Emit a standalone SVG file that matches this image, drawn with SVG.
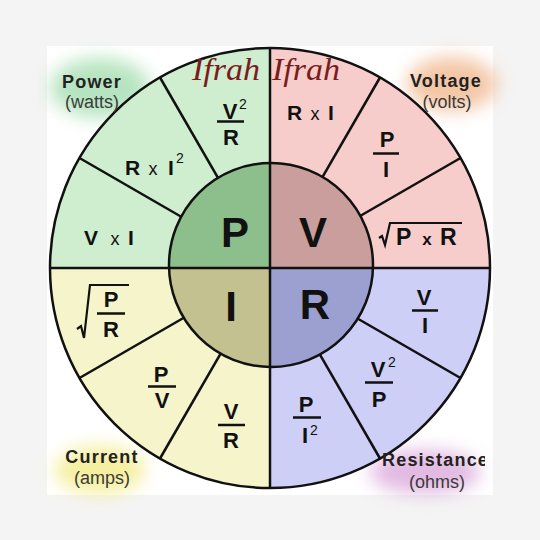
<svg xmlns="http://www.w3.org/2000/svg" width="540" height="540" viewBox="0 0 540 540">
<defs>
<style>
.f{font-family:"Liberation Sans",Arial,sans-serif;fill:#111;}
.b{font-weight:bold;}
.fr{font-family:"Liberation Sans",Arial,sans-serif;font-weight:bold;font-size:22px;fill:#111;text-anchor:middle;}
.sm{font-family:"Liberation Sans",Arial,sans-serif;font-size:18px;fill:#111;text-anchor:middle;}
.sup{font-family:"Liberation Sans",Arial,sans-serif;font-size:14px;fill:#111;}
.big{font-family:"Liberation Sans",Arial,sans-serif;font-weight:bold;font-size:42px;fill:#111;text-anchor:middle;}
.bar{stroke:#111;stroke-width:2.5;}
.lbl{font-family:"Liberation Sans",Arial,sans-serif;font-weight:bold;font-size:18px;letter-spacing:1.2px;fill:#222;text-anchor:middle;}
.lbls{font-family:"Liberation Sans",Arial,sans-serif;font-weight:bold;font-size:18px;letter-spacing:1.2px;fill:#222;text-anchor:start;}
.unit{font-family:"Liberation Sans",Arial,sans-serif;font-size:18px;fill:#3a3a3a;text-anchor:middle;}
.ln{stroke:#111;stroke-width:2.5;fill:none;}
.rad{stroke:#111;stroke-width:2.2;fill:none;stroke-linejoin:miter;}
.sig{font-family:"Liberation Serif","Times New Roman",serif;font-style:italic;font-size:32px;fill:#7a1c1c;}
</style>
<filter id="blur" x="-50%" y="-50%" width="200%" height="200%"><feGaussianBlur stdDeviation="9"/></filter>
<clipPath id="poster"><rect x="47" y="46" width="438" height="449"/></clipPath>
</defs>
<rect width="540" height="540" fill="#f4f4f4"/>
<rect x="47" y="46" width="446" height="449" fill="#ffffff"/>
<g id="blobs" filter="url(#blur)" opacity="0.75">
<ellipse cx="100" cy="88" rx="50" ry="30" fill="#9fdcab"/>
<ellipse cx="452" cy="84" rx="45" ry="27" fill="#f0b487"/>
<ellipse cx="100" cy="470" rx="45" ry="24" fill="#f2ea80"/>
<ellipse cx="425" cy="472" rx="55" ry="22" fill="#d8a3d8"/>
</g>
<g id="outer">
<path id="q-power" d="M270,268 L270,48 A220,220 0 0 0 50,268 Z" fill="#cfeecf"/>
<path id="q-voltage" d="M270,268 L490,268 A220,220 0 0 0 270,48 Z" fill="#f7cdcc"/>
<path id="q-resistance" d="M270,268 L270,488 A220,220 0 0 0 490,268 Z" fill="#cdcff6"/>
<path id="q-current" d="M270,268 L50,268 A220,220 0 0 0 270,488 Z" fill="#f6f4cb"/>
</g>
<g id="dividers" class="ln">
<line x1="339.3" y1="228" x2="460.5" y2="158"/>
<line x1="310" y1="198.7" x2="380" y2="77.5"/>
<line x1="230" y1="198.7" x2="160" y2="77.5"/>
<line x1="200.7" y1="228" x2="79.5" y2="158"/>
<line x1="200.7" y1="308" x2="79.5" y2="378"/>
<line x1="230" y1="337.3" x2="160" y2="458.5"/>
<line x1="310" y1="337.3" x2="380" y2="458.5"/>
<line x1="339.3" y1="308" x2="460.5" y2="378"/>
</g>
<g id="inner">
<path d="M270,268 L270,163 A102,102 0 0 0 169,268 Z" fill="#8dbf8d"/>
<path d="M270,268 L373,268 A102,102 0 0 0 270,163 Z" fill="#ca9e9c"/>
<path d="M270,268 L270,367 A102,102 0 0 0 373,268 Z" fill="#9ca0d1"/>
<path d="M270,268 L169,268 A102,102 0 0 0 270,367 Z" fill="#c4c190"/>
<circle cx="271" cy="265" r="102" class="ln"/>
</g>
<g id="axes" class="ln">
<line x1="270" y1="48" x2="270" y2="488"/>
<line x1="50" y1="268" x2="490" y2="268"/>
<circle cx="270" cy="268" r="220"/>
</g>
<g id="signature">
<text class="sig" x="192" y="80" textLength="68" lengthAdjust="spacingAndGlyphs">Ifrah</text>
<text class="sig" x="272" y="80" textLength="68" lengthAdjust="spacingAndGlyphs">Ifrah</text>
</g>
<g id="node-P"><text class="big" x="235" y="247">P</text></g>
<g id="node-V"><text class="big" x="313" y="247">V</text></g>
<g id="node-I"><text class="big" x="231" y="321">I</text></g>
<g id="node-R"><text class="big" x="315" y="319">R</text></g>
<g id="p-v2r">
<text class="fr" x="230" y="119">V</text><text class="sup" x="239" y="109">2</text>
<line class="bar" x1="217" y1="121.5" x2="244" y2="121.5"/>
<text class="fr" x="231" y="145">R</text>
</g>
<g id="p-ri2">
<text class="f b" font-size="21" x="125" y="175">R</text>
<text class="sm" x="153" y="175">x</text>
<text class="f b" font-size="21" x="168" y="175">I</text>
<text class="sup" x="176" y="163">2</text>
</g>
<g id="p-vi">
<text class="f b" font-size="21" x="84" y="245">V</text>
<text class="sm" x="115" y="245">x</text>
<text class="f b" font-size="21" x="128" y="245">I</text>
</g>
<g id="v-ri">
<text class="f b" font-size="21" x="287" y="120">R</text>
<text class="sm" x="315" y="120">x</text>
<text class="f b" font-size="21" x="328" y="120">I</text>
</g>
<g id="v-pi">
<text class="fr" x="387" y="147">P</text>
<line class="bar" x1="373" y1="153.5" x2="399" y2="153.5"/>
<text class="fr" x="386" y="177">I</text>
</g>
<g id="v-sqrtpr">
<polyline class="rad" points="379,238 382,236 385,245 390,223 462,223"/>
<text class="f b" font-size="23" x="396" y="245">P</text>
<text class="f b" font-size="17" x="427" y="245" text-anchor="middle">x</text>
<text class="f b" font-size="23" x="440" y="245">R</text>
</g>
<g id="r-vi">
<text class="fr" x="424" y="305">V</text>
<line class="bar" x1="412" y1="310.5" x2="438" y2="310.5"/>
<text class="fr" x="425" y="333">I</text>
</g>
<g id="r-v2p">
<text class="fr" x="378" y="377">V</text><text class="sup" x="388" y="367">2</text>
<line class="bar" x1="365" y1="382.5" x2="393" y2="382.5"/>
<text class="fr" x="379" y="407">P</text>
</g>
<g id="r-pi2">
<text class="fr" x="306" y="412">P</text>
<line class="bar" x1="293" y1="417.5" x2="321" y2="417.5"/>
<text class="fr" x="305" y="443">I</text><text class="sup" x="310" y="435">2</text>
</g>
<g id="i-sqrtpr">
<polyline class="rad" points="77,329 81,326 84,338 90,285 129,285"/>
<text class="fr" x="111" y="307">P</text>
<line class="bar" x1="97" y1="313.5" x2="125" y2="313.5"/>
<text class="fr" x="111" y="337">R</text>
</g>
<g id="i-pv">
<text class="fr" x="161" y="382">P</text>
<line class="bar" x1="148" y1="386.5" x2="176" y2="386.5"/>
<text class="fr" x="162" y="408">V</text>
</g>
<g id="i-vr">
<text class="fr" x="231" y="419">V</text>
<line class="bar" x1="218" y1="425" x2="245" y2="425"/>
<text class="fr" x="231" y="448">R</text>
</g>
<g id="label-power"><text class="lbl" x="92" y="88">Power</text><text class="unit" x="92" y="108">(watts)</text></g>
<g id="label-voltage"><text class="lbl" x="446" y="87">Voltage</text><text class="unit" x="447" y="108">(volts)</text></g>
<g id="label-current"><text class="lbl" x="102" y="463">Current</text><text class="unit" x="102" y="484">(amps)</text></g>
<g id="label-resistance" clip-path="url(#poster)"><text class="lbls" x="382" y="466">Resistance</text><text class="unit" x="437" y="488">(ohms)</text></g>
</svg>
